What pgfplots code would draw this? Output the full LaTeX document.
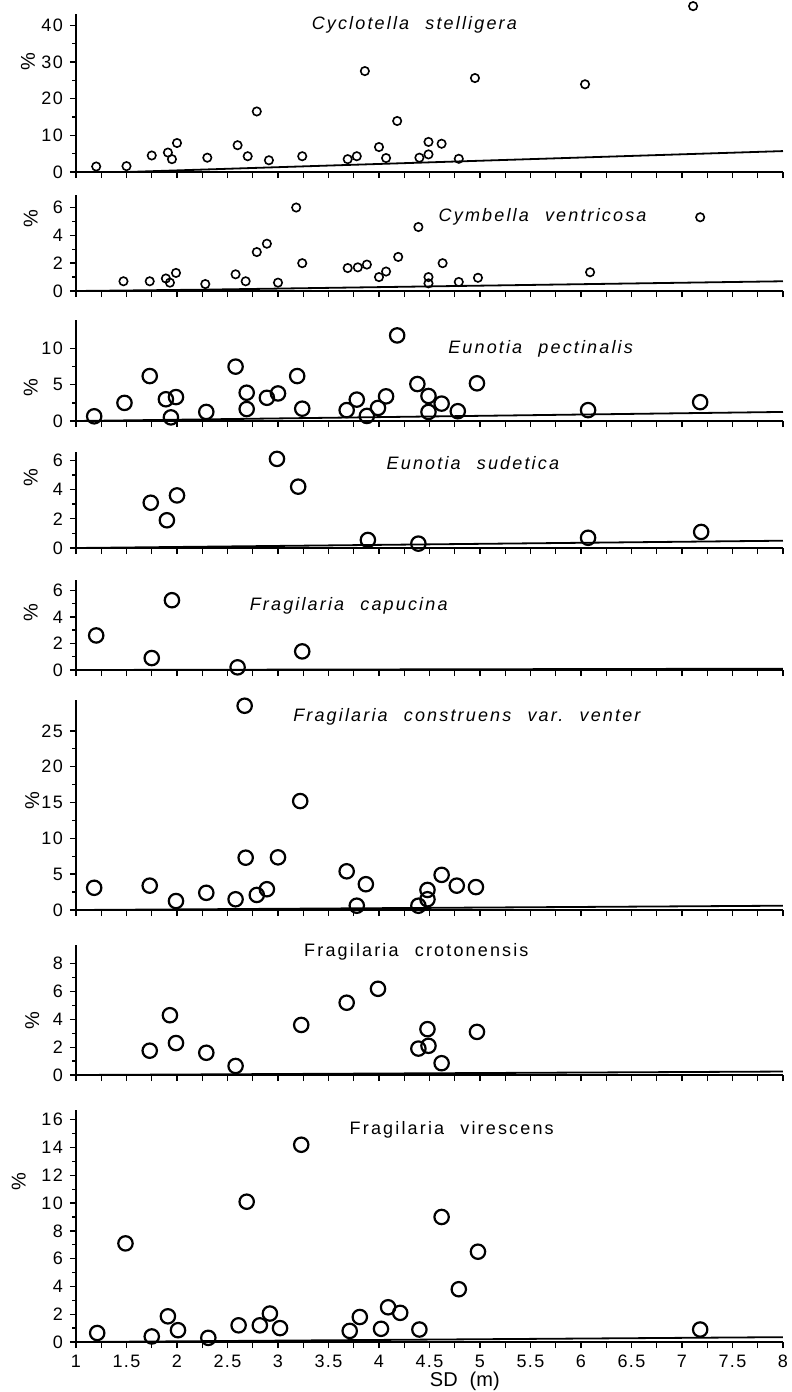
\documentclass[border=0pt]{standalone}
\usepackage{fontspec}
\setmainfont{Liberation Sans}
\newfontfamily\titlefont[LetterSpace=12]{Liberation Sans}
\newfontfamily\tickfont[LetterSpace=8]{Liberation Sans}
\usepackage{pgfplots}
\pgfplotsset{compat=1.18}

\pgfplotsset{
  panel/.style={
    scale only axis, width=353.5pt,
    xmin=1, xmax=8, ymin=0,
    axis lines*=left,
    axis line style={line width=0.8pt},
    tick align=outside,
    xtick={1,1.25,...,8.1}, xticklabels={},
    major tick length=3pt, minor tick length=1.8pt,
    minor y tick num=1,
    tick style={black, line width=0.7pt},
    tick label style={font=\tickfont\fontsize{9}{10}\selectfont},
    xticklabel style={inner sep=0.5pt, yshift=-3pt},
    /pgf/number format/assume math mode=true,
    ylabel={\%},
    clip=false,
    anchor=south west,
  },
  pts/.style={only marks, mark=o, mark size=3.6pt, mark options={line width=1.1pt}},
  ptsS/.style={only marks, mark=o, mark size=2.1pt, mark options={line width=0.8pt}},
  fit/.style={no marks, line width=0.9pt},
}
\tikzset{ttl/.style={font=\titlefont\fontsize{9}{10}\selectfont}}

\begin{document}
\begin{tikzpicture}
\useasboundingbox (-38pt,0pt) rectangle (358pt,-696pt);

% Cyclotella stelligera
\begin{axis}[panel, at={(0pt,-86pt)}, height=78.9pt, ymax=43, ytick={0,10,20,30,40},
    ylabel style={at={(axis description cs:-0.048,0.7)}}]
  \addplot[fit] coordinates {(1,0) (1.5,0) (8,5.7)};
  \addplot[ptsS] coordinates {(1.2,1.5) (1.5,1.6) (1.75,4.5) (1.91,5.3) (1.95,3.5) (2.0,7.9) (2.3,3.9) (2.6,7.3) (2.7,4.3) (2.79,16.5) (2.91,3.2) (3.24,4.3) (3.69,3.5) (3.78,4.3) (3.86,27.5) (4.0,6.8) (4.07,3.8) (4.18,13.9) (4.4,3.9) (4.49,4.8) (4.49,8.2) (4.62,7.7) (4.79,3.6) (4.95,25.6) (6.04,23.9) (7.11,45.2)};
  \node[ttl] at (axis cs:4.35,40) {\itshape Cyclotella\hspace{0.9em}stelligera};
\end{axis}

% Cymbella ventricosa
\begin{axis}[panel, at={(0pt,-145.5pt)}, height=48pt, ymax=6.9, ytick={0,2,4,6},
    ylabel style={at={(axis description cs:-0.044,0.75)}}]
  \addplot[fit] coordinates {(1,0) (2.3,0.1) (8,0.7)};
  \addplot[ptsS] coordinates {(1.47,0.7) (1.73,0.7) (1.89,0.9) (1.93,0.6) (1.99,1.3) (2.28,0.5) (2.58,1.2) (2.68,0.7) (2.79,2.8) (2.89,3.4) (3.0,0.6) (3.18,6.0) (3.24,2.0) (3.69,1.65) (3.79,1.7) (3.88,1.9) (4.0,1.0) (4.07,1.4) (4.19,2.45) (4.39,4.6) (4.49,1.0) (4.49,0.55) (4.63,2.0) (4.79,0.65) (4.98,0.95) (6.09,1.35) (7.18,5.3)};
  \node[ttl] at (axis cs:5.62,5.3) {\itshape Cymbella\hspace{0.9em}ventricosa};
\end{axis}

% Eunotia pectinalis
\begin{axis}[panel, at={(0pt,-210.5pt)}, height=50.4pt, ymax=13.9, ytick={0,5,10},
    ylabel style={at={(axis description cs:-0.044,0.33)}}]
  \addplot[fit] coordinates {(1,0) (8,1.25)};
  \addplot[pts] coordinates {(1.18,0.65) (1.48,2.5) (1.73,6.2) (1.89,3.0) (1.99,3.3) (1.94,0.5) (2.29,1.25) (2.58,7.5) (2.69,3.9) (2.69,1.65) (2.89,3.2) (3.0,3.8) (3.19,6.2) (3.24,1.7) (3.68,1.5) (3.78,2.95) (3.88,0.7) (3.99,1.8) (4.07,3.4) (4.18,11.8) (4.38,5.1) (4.49,3.45) (4.49,1.25) (4.62,2.4) (4.78,1.35) (4.97,5.2) (6.07,1.5) (7.18,2.6)};
  \node[ttl] at (axis cs:5.6,10) {\itshape Eunotia\hspace{0.9em}pectinalis};
\end{axis}

% Eunotia sudetica
\begin{axis}[panel, at={(0pt,-274pt)}, height=48.2pt, ymax=6.6, ytick={0,2,4,6},
    ylabel style={at={(axis description cs:-0.044,0.73)}}]
  \addplot[fit] coordinates {(1,0) (8,0.5)};
  \addplot[pts] coordinates {(1.74,3.1) (1.9,1.9) (2.0,3.6) (2.99,6.1) (3.2,4.2) (3.89,0.55) (4.39,0.3) (6.07,0.7) (7.19,1.1)};
  \node[ttl] at (axis cs:4.93,5.8) {\itshape Eunotia\hspace{0.9em}sudetica};
\end{axis}

% Fragilaria capucina
\begin{axis}[panel, at={(0pt,-335pt)}, height=45.2pt, ymax=6.8, ytick={0,2,4,6},
    ylabel style={at={(axis description cs:-0.044,0.64)}}]
  \addplot[fit] coordinates {(1,0) (8,0.1)};
  \addplot[pts] coordinates {(1.2,2.6) (1.75,0.9) (1.95,5.25) (2.6,0.2) (3.24,1.4)};
  \node[ttl] at (axis cs:3.7,4.8) {\itshape Fragilaria\hspace{0.9em}capucina};
\end{axis}

% Fragilaria construens var. venter
\begin{axis}[panel, at={(0pt,-455pt)}, height=105pt, ymax=29.3, ytick={0,5,...,25},
    ylabel style={at={(axis description cs:-0.042,0.52)}}]
  \addplot[fit] coordinates {(1,0) (8,0.6)};
  \addplot[pts] coordinates {(1.18,3.1) (1.73,3.4) (1.99,1.25) (2.29,2.4) (2.58,1.5) (2.67,28.5) (2.68,7.3) (2.79,2.1) (2.89,2.9) (3.0,7.35) (3.22,15.2) (3.68,5.4) (3.78,0.6) (3.87,3.6) (4.39,0.6) (4.48,2.8) (4.48,1.5) (4.62,4.9) (4.77,3.4) (4.96,3.2)};
  \node[ttl] at (axis cs:4.87,26.9) {\itshape Fragilaria\hspace{0.9em}construens\hspace{0.9em}var.\hspace{0.9em}venter};
\end{axis}

% Fragilaria crotonensis
\begin{axis}[panel, at={(0pt,-537.5pt)}, height=65pt, ymax=9.35, ytick={0,2,...,8},
    ylabel style={at={(axis description cs:-0.042,0.42)}}]
  \addplot[fit] coordinates {(1,0) (8,0.25)};
  \addplot[pts] coordinates {(1.73,1.75) (1.93,4.3) (1.99,2.3) (2.29,1.6) (2.58,0.65) (3.23,3.6) (3.68,5.2) (3.99,6.2) (4.39,1.9) (4.48,3.3) (4.49,2.1) (4.62,0.85) (4.97,3.1)};
  \node[ttl] at (axis cs:4.37,8.85) {Fragilaria\hspace{0.9em}crotonensis};
\end{axis}

% Fragilaria virescens
\begin{axis}[panel, at={(0pt,-671pt)}, height=116pt, ymax=16.7, ytick={0,2,...,16},
    xticklabels={1,,1.5,,2,,2.5,,3,,3.5,,4,,4.5,,5,,5.5,,6,,6.5,,7,,7.5,,8},
    xlabel={SD\hspace{0.6em}(m)},
    xlabel style={at={(axis description cs:0.55,0)}, anchor=north, yshift=-14.5pt, inner sep=0.5pt},
    ylabel style={at={(axis description cs:-0.061,0.69)}}]
  \addplot[fit] coordinates {(1,0) (8,0.35)};
  \addplot[pts] coordinates {(1.21,0.65) (1.49,7.1) (1.75,0.4) (1.91,1.85) (2.01,0.85) (2.31,0.3) (2.61,1.2) (2.69,10.1) (2.82,1.2) (2.92,2.05) (3.02,1.0) (3.23,14.2) (3.71,0.8) (3.81,1.8) (4.02,0.95) (4.09,2.5) (4.21,2.1) (4.4,0.9) (4.62,9.0) (4.79,3.8) (4.98,6.5) (7.18,0.9)};
  \node[ttl] at (axis cs:4.72,15.3) {Fragilaria\hspace{0.9em}virescens};
\end{axis}
\end{tikzpicture}
\end{document}
